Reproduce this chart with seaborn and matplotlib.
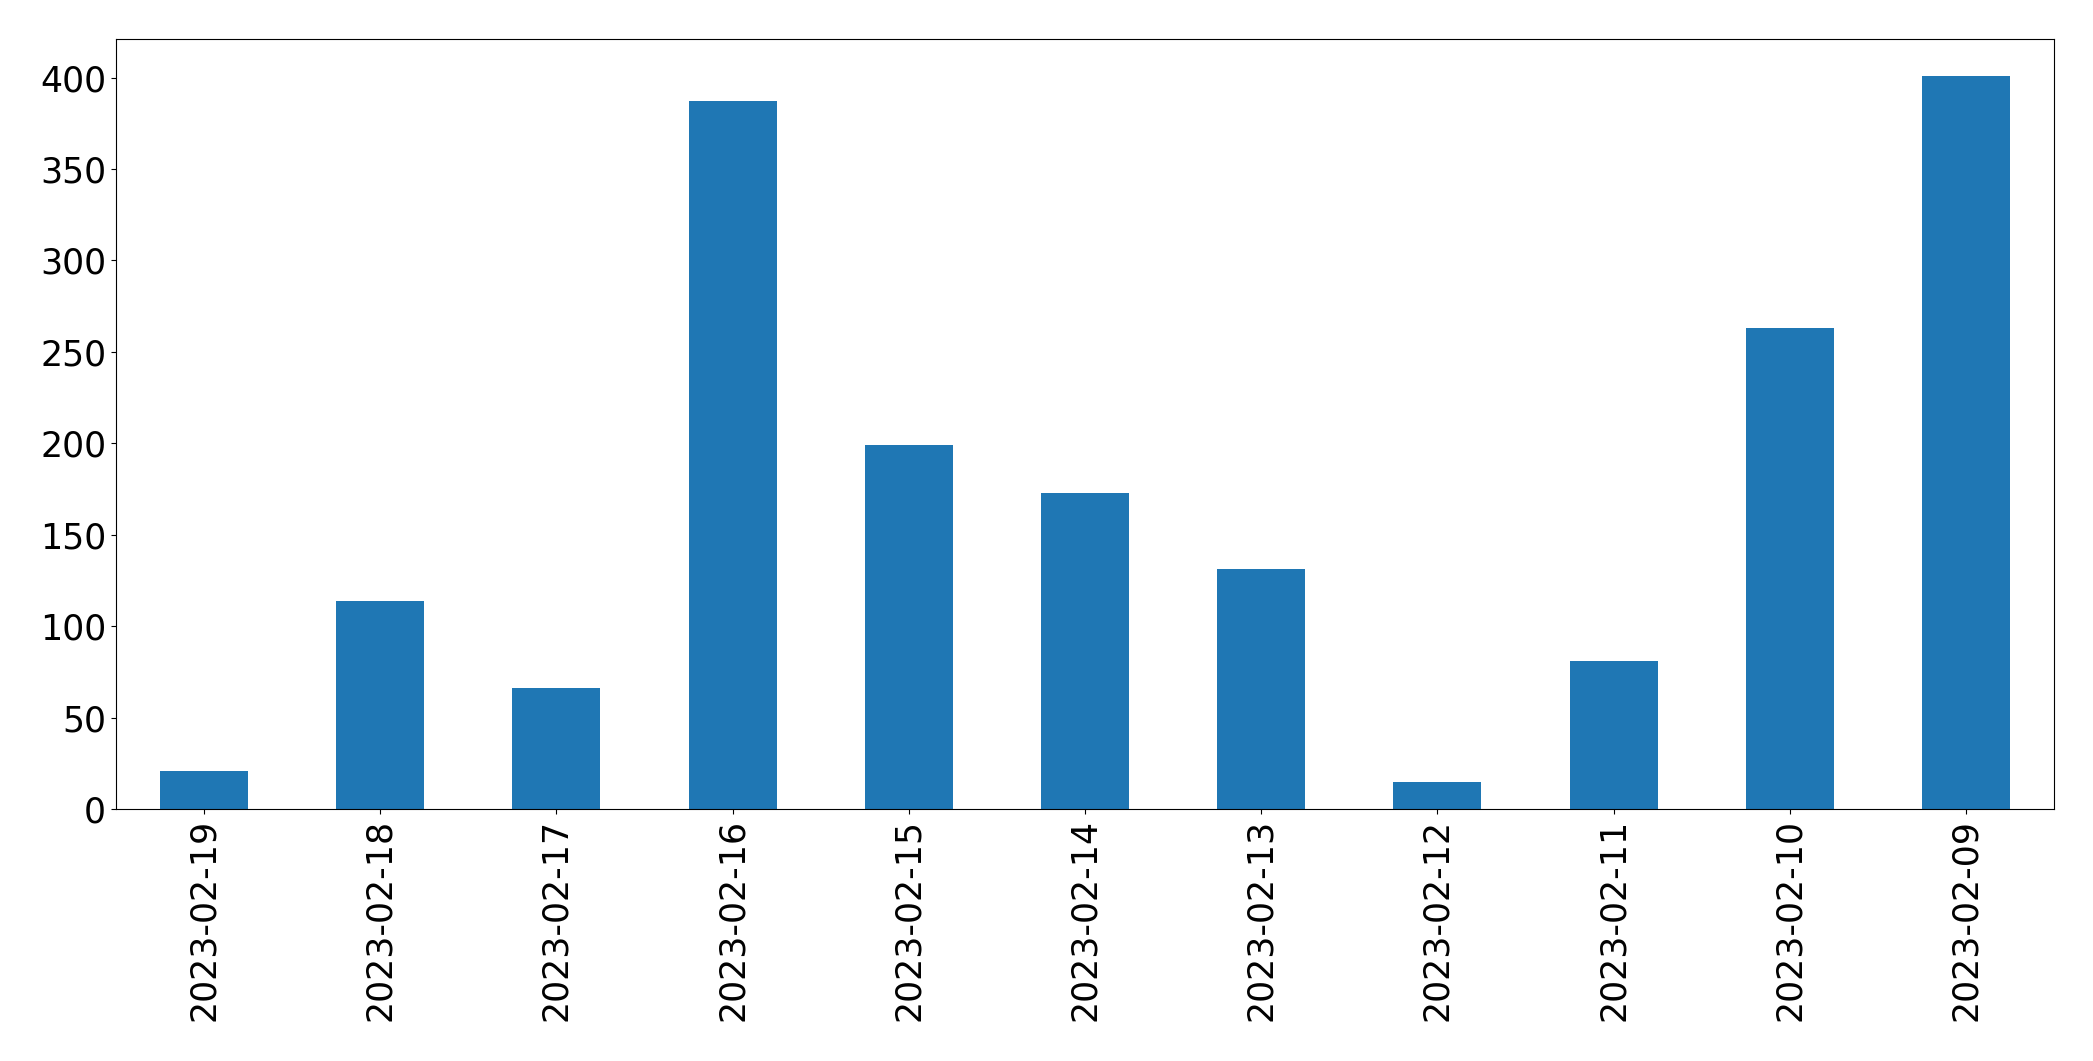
import pandas as pd
import matplotlib
matplotlib.use("Agg")
import matplotlib.pyplot as plt
import seaborn as sns

BLUE = '#1f77b4'

dates = ['2023-02-19', '2023-02-18', '2023-02-17', '2023-02-16', '2023-02-15',
         '2023-02-14', '2023-02-13', '2023-02-12', '2023-02-11', '2023-02-10',
         '2023-02-09']
counts = [21, 114, 66, 387, 199, 173, 131, 15, 81, 263, 401]

df = pd.DataFrame({'date': dates, 'count': counts})

fig, ax = plt.subplots(figsize=(20.93, 10.61), dpi=100)
sns.barplot(data=df, x='date', y='count', order=dates, color=BLUE,
            saturation=1, width=0.5, ax=ax)

ax.set_xlim(-0.5, len(dates) - 0.5)
ax.set_ylim(0, max(counts) * 1.05)
ax.set_xlabel("")
ax.set_ylabel("")
ax.tick_params(axis='x', rotation=90, labelsize=25)
ax.tick_params(axis='y', labelsize=25)

plt.subplots_adjust(left=0.0554, right=0.9814, top=0.9632, bottom=0.2375)
plt.savefig("out.png", dpi=100)
plt.close()
